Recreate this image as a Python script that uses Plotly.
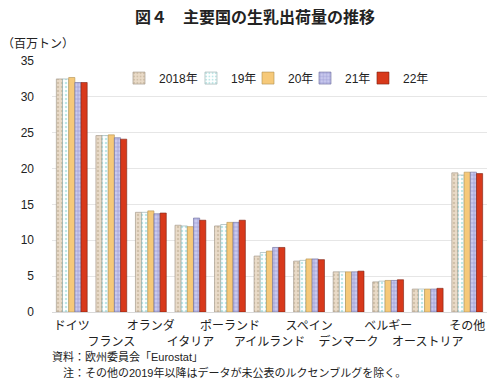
import plotly.graph_objects as go

countries = ["ドイツ", "フランス", "オランダ", "イタリア", "ポーランド", "アイルランド",
             "スペイン", "デンマーク", "ベルギー", "オーストリア", "その他"]
tick_text = [c if i % 2 == 0 else "<br>" + c for i, c in enumerate(countries)]
years = ["2018年", "19年", "20年", "21年", "22年"]

v2018 = [32.5, 24.6, 13.9, 12.1, 12.0, 7.8, 7.1, 5.6, 4.2, 3.2, 19.4]
v2019 = [32.5, 24.6, 13.9, 12.0, 12.2, 8.3, 7.2, 5.6, 4.3, 3.2, 19.1]
v2020 = [32.7, 24.7, 14.1, 11.9, 12.5, 8.5, 7.4, 5.6, 4.4, 3.2, 19.5]
v2021 = [32.0, 24.3, 13.7, 13.1, 12.5, 9.0, 7.4, 5.6, 4.4, 3.2, 19.5]
v2022 = [32.0, 24.1, 13.8, 12.8, 12.8, 9.0, 7.3, 5.7, 4.5, 3.3, 19.3]
series = [v2018, v2019, v2020, v2021, v2022]

styles = [
    dict(color="#eadbc8", pattern=dict(shape=".", fgcolor="#b8a58c", size=4, solidity=0.3), line=dict(color="#9a8f80", width=0.6)),
    dict(color="#ffffff", pattern=dict(shape=".", fgcolor="#7ccfd0", size=4, solidity=0.3), line=dict(color="#8fa8a8", width=0.6)),
    dict(color="#f6c979", line=dict(color="#b09050", width=0.6)),
    dict(color="#c9c9ee", pattern=dict(shape="+", fgcolor="#6a6ab8", size=4, solidity=0.3), line=dict(color="#6a6a9a", width=0.6)),
    dict(color="#d8391b", line=dict(color="#7a2010", width=0.6)),
]
legend_x = [0.154, 0.3195, 0.4506, 0.5816, 0.7149]
legend_names = ["legend", "legend2", "legend3", "legend4", "legend5"]

cjk = "Noto Sans CJK JP"
font = "Liberation Sans, Noto Sans CJK JP"
fig = go.Figure()
for name, vals, st, lg in zip(years, series, styles, legend_names):
    fig.add_trace(go.Bar(x=countries, y=vals, name=name, marker=st, legend=lg))

legend_common = dict(orientation="h", y=0.932, xanchor="left", yanchor="middle",
                     font=dict(size=12, family=font, color="#222"), bgcolor="rgba(0,0,0,0)",
                     itemwidth=30)
fig.update_layout(
    width=500, height=385,
    margin=dict(l=52, r=13, t=61, b=73),
    paper_bgcolor="white", plot_bgcolor="white",
    barmode="group", bargap=0.22, bargroupgap=0,
    font=dict(family=font, size=12, color="#222"),
    title=dict(text="<b>図４　主要国の生乳出荷量の推移</b>", x=0.51, xanchor="center",
               y=0.955, yanchor="middle", font=dict(size=16, family=cjk, color="#222")),
    showlegend=True,
)
fig.update_layout({lg: dict(legend_common, x=x) for lg, x in zip(legend_names, legend_x)})
fig.update_xaxes(tickmode="array", tickvals=countries, ticktext=tick_text, automargin=False,
                 showline=True, linecolor="#d9d9d9", ticks="", tickfont=dict(size=12, family=cjk),
                 tickangle=0, ticklabelstandoff=3)
fig.update_yaxes(range=[0, 35], dtick=5, showgrid=True, gridcolor="#e6e6e6", automargin=False,
                 zeroline=False, showline=False, tickfont=dict(size=12), ticklabelstandoff=17)
fig.add_annotation(text="（百万トン）", xref="paper", yref="paper", x=-0.12, y=1.03,
                   xanchor="left", yanchor="bottom", showarrow=False, font=dict(size=12, family=cjk))
fig.add_annotation(text="資料：欧州委員会「Eurostat」", xref="paper", yref="paper",
                   x=-0.005, y=-0.145, xanchor="left", yanchor="top", showarrow=False,
                   font=dict(size=11))
fig.add_annotation(text="注：その他の2019年以降はデータが未公表のルクセンブルグを除く。", xref="paper", yref="paper",
                   x=0.02, y=-0.207, xanchor="left", yanchor="top", showarrow=False,
                   font=dict(size=11))
fig.write_html("out.html", config={"displayModeBar": False},
               post_script="document.body.style.margin='0';")
